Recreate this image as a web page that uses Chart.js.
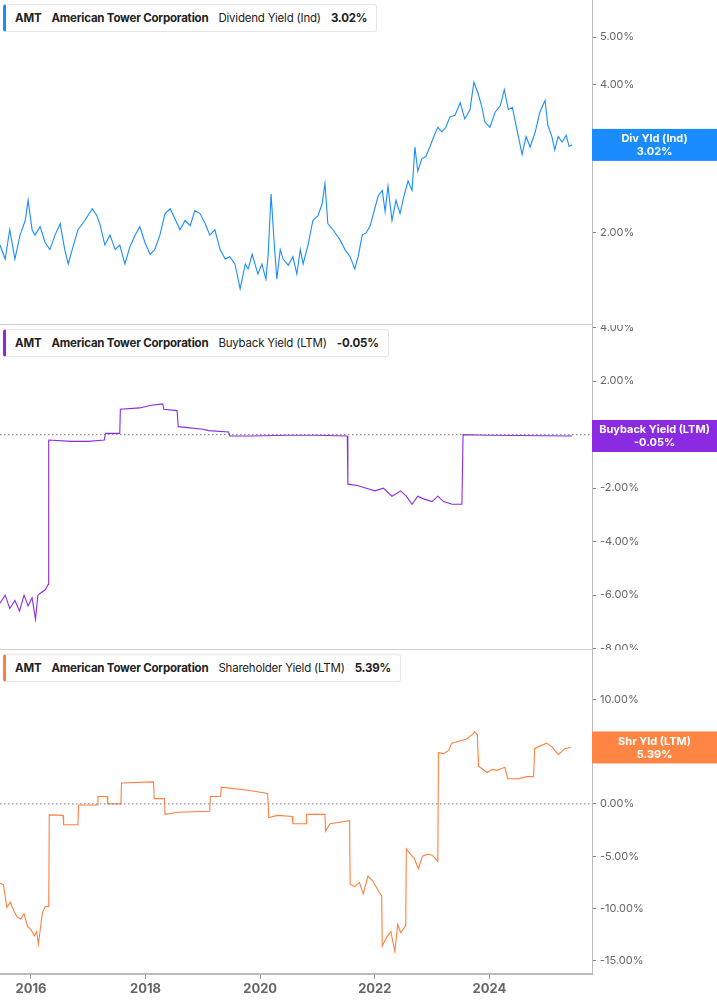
<!DOCTYPE html>
<html>
<head>
<title>AMT yields</title>
<script src="https://cdn.jsdelivr.net/npm/chart.js"></script>
<style>
body { margin: 0; width: 717px; height: 1005px; position: relative; background: #fff; font-family: Inter, "Noto Sans", sans-serif; overflow: hidden; }
.wrap { position: absolute; left: 0; width: 717px; }
.legend { position: absolute; left: 3px; height: 26px; line-height: 26px; padding: 0 9px 0 9px; background: #fff; border: 1px solid #e6e6e6; border-left: 3px solid; border-radius: 3px; font-size: 11.5px; letter-spacing: -0.2px; color: #222; white-space: nowrap; z-index: 2; }
.legend b { font-weight: 700; margin-right: 10px; }
.legend span { margin-right: 10px; }
</style>
</head>
<body>
<div class="wrap" style="top:0;height:325px"><canvas id="c1"></canvas></div>
<div class="wrap" style="top:325px;height:325px"><canvas id="c2"></canvas></div>
<div class="wrap" style="top:650px;height:355px"><canvas id="c3"></canvas></div>
<div class="legend" style="top:4px;border-left-color:#1a8cff"><b>AMT</b><b>American Tower Corporation</b><span>Dividend Yield (Ind)</span><b style="margin-right:0">3.02%</b></div>
<div class="legend" style="top:329px;border-left-color:#8a2be2"><b>AMT</b><b>American Tower Corporation</b><span>Buyback Yield (LTM)</span><b style="margin-right:0">-0.05%</b></div>
<div class="legend" style="top:654px;border-left-color:#ff8040"><b>AMT</b><b>American Tower Corporation</b><span>Shareholder Yield (LTM)</span><b style="margin-right:0">5.39%</b></div>
<script>
const xMin = 2015.46, xMax = 2025.79;
const yearTicks = [2016, 2018, 2020, 2022, 2024];

const divDates = [2015.46,2015.55,2015.63,2015.72,2015.81,2015.90,2015.95,2016.02,2016.07,2016.16,2016.25,2016.33,2016.42,2016.51,2016.59,2016.65,2016.72,2016.82,2016.94,2017.07,2017.15,2017.21,2017.29,2017.38,2017.47,2017.55,2017.64,2017.73,2017.82,2017.90,2017.99,2018.08,2018.16,2018.25,2018.34,2018.43,2018.51,2018.60,2018.69,2018.78,2018.86,2018.95,2019.04,2019.12,2019.21,2019.30,2019.39,2019.47,2019.56,2019.65,2019.74,2019.79,2019.86,2019.96,2020.03,2020.10,2020.14,2020.19,2020.24,2020.29,2020.35,2020.40,2020.49,2020.57,2020.64,2020.70,2020.75,2020.83,2020.92,2021.01,2021.08,2021.13,2021.18,2021.27,2021.39,2021.48,2021.57,2021.65,2021.71,2021.78,2021.85,2021.92,2021.99,2022.06,2022.13,2022.18,2022.23,2022.30,2022.37,2022.44,2022.51,2022.58,2022.65,2022.70,2022.75,2022.82,2022.89,2022.96,2023.03,2023.10,2023.17,2023.24,2023.31,2023.40,2023.49,2023.57,2023.66,2023.73,2023.80,2023.87,2023.92,2024.01,2024.10,2024.19,2024.26,2024.33,2024.40,2024.50,2024.57,2024.64,2024.71,2024.80,2024.88,2024.97,2025.02,2025.09,2025.14,2025.20,2025.27,2025.34,2025.39,2025.44];
const divYield = [1.89,1.77,2.03,1.77,1.98,2.12,2.33,2.03,1.98,2.06,1.91,1.85,1.98,2.09,1.85,1.73,1.85,2.03,2.12,2.24,2.17,2.07,1.89,1.98,1.85,1.89,1.73,1.88,1.98,2.06,1.91,1.81,1.85,1.98,2.19,2.24,2.14,2.03,2.12,2.07,2.22,2.19,2.09,1.98,2.03,1.85,1.77,1.79,1.73,1.54,1.73,1.69,1.81,1.65,1.73,1.61,1.81,2.40,1.94,1.61,1.85,1.77,1.72,1.79,1.65,1.85,1.73,1.88,2.12,2.17,2.29,2.52,2.09,2.03,1.94,1.85,1.79,1.69,1.79,1.98,2.00,2.07,2.22,2.38,2.44,2.21,2.49,2.12,2.33,2.19,2.38,2.55,2.44,2.99,2.67,2.83,2.86,2.99,3.14,3.28,3.21,3.28,3.44,3.47,3.68,3.41,3.56,4.05,3.85,3.60,3.36,3.28,3.52,3.63,3.91,3.56,3.60,3.16,2.89,3.14,2.99,3.21,3.52,3.72,3.31,3.14,2.95,3.14,3.06,3.16,3.00,3.02];

const bbDates = [2015.46,2015.55,2015.63,2015.72,2015.80,2015.88,2015.95,2016.02,2016.08,2016.12,2016.18,2016.25,2016.30,2016.31,2016.70,2017.00,2017.28,2017.30,2017.55,2017.56,2017.90,2018.10,2018.30,2018.32,2018.55,2018.57,2019.00,2019.10,2019.45,2019.47,2019.80,2020.50,2021.00,2021.52,2021.53,2021.70,2021.85,2022.00,2022.15,2022.30,2022.45,2022.55,2022.65,2022.75,2022.85,2023.00,2023.10,2023.20,2023.35,2023.52,2023.54,2024.00,2025.44];
const bbYield = [-6.3,-6.0,-6.5,-6.2,-6.6,-6.0,-6.4,-6.1,-6.9,-6.0,-5.9,-5.8,-5.6,-0.2,-0.25,-0.25,-0.2,0.05,0.05,0.95,1.0,1.1,1.15,0.95,0.9,0.3,0.2,0.15,0.1,-0.05,-0.05,-0.02,-0.02,-0.05,-1.85,-1.9,-2.0,-2.1,-2.0,-2.3,-2.1,-2.3,-2.6,-2.3,-2.4,-2.5,-2.3,-2.5,-2.6,-2.6,0,-0.02,-0.05];

const shrDates = [2015.46,2015.52,2015.58,2015.64,2015.70,2015.76,2015.82,2015.88,2015.94,2016.00,2016.06,2016.10,2016.13,2016.20,2016.25,2016.31,2016.32,2016.56,2016.57,2016.82,2016.83,2017.16,2017.17,2017.33,2017.34,2017.57,2017.58,2018.14,2018.15,2018.33,2018.34,2018.57,2019.12,2019.13,2019.31,2019.32,2019.79,2020.13,2020.15,2020.30,2020.56,2020.57,2020.80,2020.81,2021.13,2021.14,2021.22,2021.33,2021.56,2021.57,2021.65,2021.73,2021.80,2021.88,2021.97,2022.07,2022.12,2022.13,2022.20,2022.28,2022.35,2022.40,2022.45,2022.52,2022.54,2022.55,2022.62,2022.69,2022.76,2022.83,2022.92,2023.00,2023.10,2023.11,2023.20,2023.29,2023.34,2023.48,2023.60,2023.72,2023.74,2023.79,2023.81,2023.96,2024.05,2024.13,2024.27,2024.32,2024.51,2024.65,2024.77,2024.79,2025.00,2025.10,2025.20,2025.32,2025.42];
const shrYield = [-7.6,-7.7,-9.9,-9.4,-10.2,-10.8,-11.0,-10.5,-11.7,-12.0,-12.6,-12.2,-13.4,-10.4,-9.8,-9.8,-1.05,-1.1,-2.0,-2.0,-0.1,-0.1,0.7,0.7,0,0,2.0,2.1,0.5,0.5,-1.0,-0.8,-0.7,0.7,0.7,1.6,1.3,1.0,-1.3,-1.1,-1.2,-1.9,-1.9,-1.0,-1.0,-2.6,-1.9,-1.8,-1.6,-7.7,-7.9,-7.5,-8.6,-6.9,-7.4,-8.4,-8.8,-13.6,-12.8,-12.2,-14.1,-11.5,-12.3,-11.8,-11.6,-4.3,-4.8,-5.2,-6.2,-5.0,-4.8,-4.9,-5.5,4.9,4.8,5.1,5.8,6.0,6.2,6.7,6.9,6.6,3.6,3.0,3.3,3.2,3.5,2.4,2.4,2.6,2.6,5.3,5.8,5.4,4.7,5.3,5.39];

const pts = (xs, ys) => xs.map((x, i) => ({ x: x, y: ys[i] }));

const overlay = {
  id: 'overlay',
  afterDraw(chart) {
    const o = chart.options.plugins.overlay;
    const ctx = chart.ctx, a = chart.chartArea, ys = chart.scales.y;
    ctx.save();
    if (o.zero) {
      const z = ys.getPixelForValue(0);
      ctx.strokeStyle = '#777'; ctx.lineWidth = 1; ctx.setLineDash([1.5, 2.5]);
      ctx.beginPath(); ctx.moveTo(a.left, z); ctx.lineTo(a.right, z); ctx.stroke();
      ctx.setLineDash([]);
    }
    if (o.bottomLine) {
      ctx.strokeStyle = '#cfcfcf'; ctx.lineWidth = 1;
      ctx.beginPath(); ctx.moveTo(a.left, a.bottom - 0.5); ctx.lineTo(a.right, a.bottom - 0.5); ctx.stroke();
    }
    const y = ys.getPixelForValue(o.value);
    ctx.fillStyle = o.color;
    ctx.fillRect(a.right, y - 16, chart.width - a.right, 32);
    ctx.fillStyle = '#fff'; ctx.font = 'bold 11px Inter, sans-serif'; ctx.textAlign = 'center'; ctx.textBaseline = 'middle';
    const cx = a.right + (chart.width - a.right) / 2;
    ctx.fillText(o.label, cx, y - 6);
    ctx.fillText(o.valueText, cx, y + 7);
    ctx.restore();
  }
};

function makeChart(id, data, color, yOpts, ov, showX) {
  return new Chart(document.getElementById(id), {
    type: 'line',
    data: { datasets: [{ data: data, borderColor: color, borderWidth: 1.1, pointRadius: 0, tension: 0 }] },
    options: {
      responsive: true, maintainAspectRatio: false, animation: false,
      layout: { padding: 0 },
      plugins: { legend: { display: false }, tooltip: { enabled: false }, overlay: ov },
      scales: {
        x: {
          type: 'linear', min: xMin, max: xMax, display: showX,
          afterBuildTicks: s => { s.ticks = yearTicks.map(v => ({ value: v })); },
          afterFit: s => { if (showX) { s.height = 31; } s.paddingLeft = 0; s.paddingRight = 0; },
          grid: { drawOnChartArea: false, tickLength: 5, color: '#999' },
          border: { color: '#bbb', width: 2 },
          ticks: { color: '#666', font: { size: 13, weight: 'bold', family: 'Inter' }, padding: 2, callback: v => String(v) }
        },
        y: Object.assign({
          position: 'right',
          afterFit: s => { s.width = 125; s.paddingTop = 0; s.paddingBottom = 0; },
          grid: { drawOnChartArea: false, tickLength: 4, color: '#888' },
          border: { color: '#bbb' },
          ticks: { color: '#666', font: { size: 11, family: 'Inter' }, padding: 4, callback: v => v.toFixed(2) + '%' }
        }, yOpts)
      }
    },
    plugins: [overlay]
  });
}

makeChart('c1', pts(divDates, divYield), '#1a8cff',
  { type: 'logarithmic', min: 1.34, max: 5.95, afterBuildTicks: s => { s.ticks = [2, 3, 4, 5].map(v => ({ value: v })); } },
  { value: 3.02, color: '#1a8cff', label: 'Div Yld (Ind)', valueText: '3.02%', bottomLine: true }, false);

makeChart('c2', pts(bbDates, bbYield), '#8a2be2',
  { type: 'linear', min: -8.05, max: 4.1, afterBuildTicks: s => { s.ticks = [4, 2, 0, -2, -4, -6, -8].map(v => ({ value: v })); } },
  { value: -0.05, color: '#8a2be2', label: 'Buyback Yield (LTM)', valueText: '-0.05%', zero: true, bottomLine: true }, false);

makeChart('c3', pts(shrDates, shrYield), '#ff8040',
  { type: 'linear', min: -16.25, max: 14.7, afterBuildTicks: s => { s.ticks = [10, 5, 0, -5, -10, -15].map(v => ({ value: v })); } },
  { value: 5.39, color: '#ff8545', label: 'Shr Yld (LTM)', valueText: '5.39%', zero: true }, true);
</script>
</body>
</html>
